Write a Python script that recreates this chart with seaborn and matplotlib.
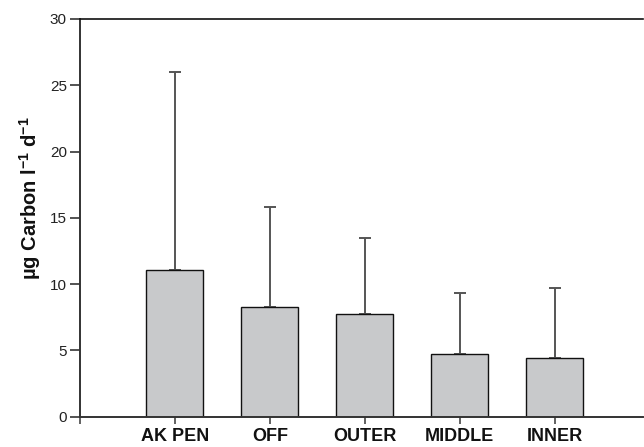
import matplotlib
matplotlib.use("Agg")
import matplotlib.pyplot as plt
from matplotlib.transforms import ScaledTranslation
import seaborn as sns
import numpy as np
import pandas as pd

# Carbon production by station group
stations = ["AK PEN", "OFF", "OUTER", "MIDDLE", "INNER"]
mean_production = [11.05, 8.25, 7.75, 4.72, 4.45]
upper_sd = [14.95, 7.58, 5.75, 4.58, 5.25]
y_ticks = [0, 5, 10, 15, 20, 25, 30]

sns.set_theme(style="white")
plt.rcParams["font.family"] = ["Liberation Sans", "DejaVu Sans"]
plt.rcParams["mathtext.fontset"] = "custom"
plt.rcParams["mathtext.rm"] = "Liberation Sans"
plt.rcParams["mathtext.bf"] = "Liberation Sans:bold"

df = pd.DataFrame({"station": stations, "production": mean_production})

fig = plt.figure(figsize=(6.44, 4.47), dpi=100)
ax = fig.add_axes([0.1242, 0.0682, 0.8742, 0.8893])

sns.barplot(data=df, x="station", y="production", color="#c8c9cb",
            saturation=1, width=0.6, edgecolor="#111111", linewidth=1.0,
            errorbar=None, ax=ax, zorder=2)

pos = np.arange(len(stations))
ax.errorbar(pos, mean_production,
            yerr=[np.zeros(len(stations)), upper_sd],
            fmt="none", ecolor="#555555", elinewidth=1.4,
            capsize=4.6, capthick=1.4, zorder=1)

ax.set_xlim(-1.0, 4.93)
ax.set_ylim(0, 30)
ax.set_yticks(y_ticks)
ax.set_yticklabels([str(t) for t in y_ticks], fontsize=11, color="#222222")
ax.set_xticks([-1] + list(pos))
ax.set_xticklabels([""] + stations, fontsize=13, fontweight="bold",
                   color="#111111")
# slight vertical stagger of the station names
for lbl, dy in zip(ax.get_xticklabels()[1:], [0, 0.7, 4.2, 4.2, 1.7]):
    lbl.set_transform(lbl.get_transform() +
                      ScaledTranslation(0, dy / 100, fig.dpi_scale_trans))

ax.set_xlabel("")
ax.set_ylabel("\u00b5g Carbon l$^{\\mathbf{-1}}$ d$^{\\mathbf{-1}}$",
              fontsize=14.5, fontweight="bold", color="#111111")
ax.yaxis.set_label_coords(-0.066, 0.55)

ax.tick_params(axis="y", direction="out", length=7, width=1.3,
               color="#444444", pad=2.5, left=True)
ax.tick_params(axis="x", direction="out", length=5, width=1.3,
               color="#555555", pad=3.3, bottom=True)

for side in ["left", "bottom"]:
    ax.spines[side].set_color("#333333")
    ax.spines[side].set_linewidth(1.4)
ax.spines["top"].set_color("#111111")
ax.spines["top"].set_linewidth(1.2)
ax.spines["right"].set_visible(False)

fig.savefig("out.png", dpi=100)
